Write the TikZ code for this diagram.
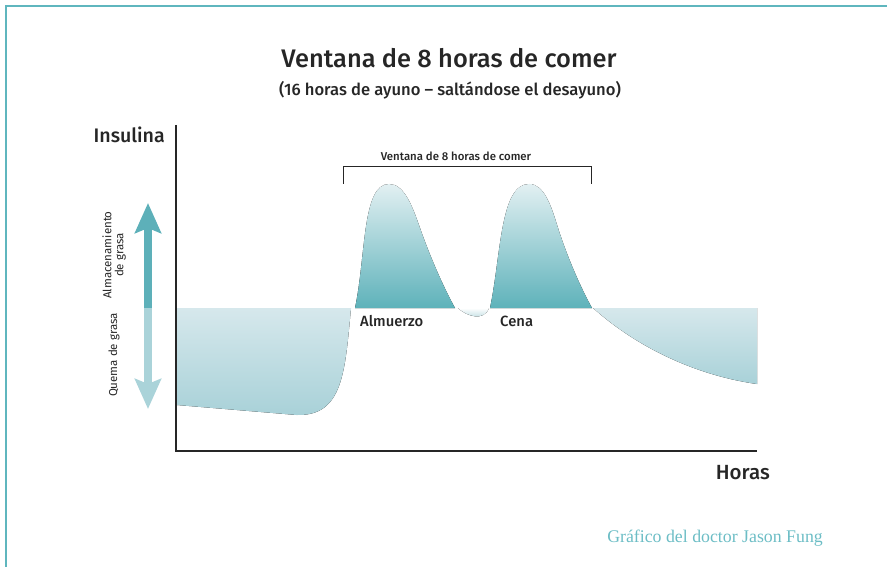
\documentclass[tikz,border=0pt]{standalone}
\usepackage{fontspec}
\setmainfont{Fira Sans}[BoldFont={Fira Sans Medium}]
\newfontfamily\creditfont{Liberation Serif}
\usepackage{tikz}
\usetikzlibrary{arrows.meta}

\definecolor{frameteal}{RGB}{95,182,190}
\definecolor{darkteal}{RGB}{93,176,185}
\definecolor{paleteal}{RGB}{170,211,217}
\definecolor{axisgray}{RGB}{38,38,38}
\definecolor{fatTop}{RGB}{214,232,236}
\definecolor{fatBottom}{RGB}{168,209,216}
\definecolor{peakTop}{RGB}{226,240,242}
\definecolor{peakBottom}{RGB}{94,178,186}
\definecolor{creditteal}{RGB}{108,189,197}

\tikzset{
  axis/.style={line width=2.5pt, axisgray},
  burnfill/.style={top color=fatTop, bottom color=fatBottom, draw=none},
  peakfill/.style={top color=peakTop, bottom color=peakBottom, draw=none},
  label/.style={font=\bfseries, text=axisgray, inner sep=0pt},
  sidelabel/.style={font=\fontsize{11.5}{12}\selectfont, text=axisgray, rotate=90, align=center, inner sep=0pt}
}

\begin{document}
\begin{tikzpicture}[x=1pt, y=-1pt]
\useasboundingbox (0,0) rectangle (887,567);
\draw[frameteal, line width=2.5pt] (6,567) -- (6,6) -- (887,6);

\node[label, font=\bfseries\fontsize{25.4}{27}\selectfont] (title) at (449,58) {Ventana de 8 horas de comer};
\node[label, font=\bfseries\fontsize{16.6}{18}\selectfont] (subtitle) at (450,90) {(16 horas de ayuno -- saltándose el desayuno)};

\fill[burnfill] (177,308) -- (351,308) .. controls (345,372) and (343,416) .. (297,415) -- (177,405) -- cycle;
\fill[burnfill] (593,308) .. controls (640,350) and (700,376) .. (757,384) -- (757,308) -- cycle;
\fill[peakfill] (355,308) .. controls (366,256) and (362,184) .. (389,184) .. controls (404,184) and (412,205) .. (420,228) .. controls (432,262) and (446,292) .. (455,308) -- cycle;
\fill[peakfill] (490,308) .. controls (501,256) and (500,184) .. (529,184) .. controls (544,184) and (551,205) .. (558,228) .. controls (569,262) and (583,292) .. (592,308) -- cycle;
\fill[top color=white, bottom color=fatBottom] (458,308) .. controls (466,316) and (484,322) .. (489,308) -- cycle;

\coordinate (origin) at (176,451);
\coordinate (ytop) at (176,125);
\coordinate (xend) at (757,451);
\draw[axis] (ytop) -- (origin) -- (xend);

\node[label, font=\bfseries\fontsize{19.6}{21}\selectfont, anchor=east] (ylabel) at (165,135) {Insulina};
\node[label, font=\bfseries\fontsize{20.5}{22}\selectfont, anchor=east] (xlabel) at (770,473) {Horas};

\coordinate (armid) at (148,308);
\coordinate (artop) at (148,203);
\coordinate (arbot) at (148,409);
\draw[darkteal, line width=8pt, -{Stealth[length=30pt, width=26pt, inset=5pt]}] (armid) -- (artop);
\draw[paleteal, line width=8pt, -{Stealth[length=30pt, width=26pt, inset=5pt]}] (armid) -- (arbot);
\node[sidelabel] (store) at (114,255) {Almacenamiento\\de grasa};
\node[sidelabel] (burn) at (114,355) {Quema de grasa};

\coordinate (brl) at (343,184);
\coordinate (brlt) at (343,167);
\coordinate (brrt) at (591,167);
\coordinate (brr) at (591,184);
\draw[axisgray, line width=1pt] (brl) -- (brlt) -- (brrt) -- (brr);
\node[label, font=\bfseries\fontsize{11.4}{13}\selectfont] (window) at (456,156) {Ventana de 8 horas de comer};

\node[label, font=\bfseries\fontsize{14.8}{16}\selectfont, anchor=west] (lunch) at (360,321) {Almuerzo};
\node[label, font=\bfseries\fontsize{14.8}{16}\selectfont, anchor=west] (dinner) at (500,321) {Cena};

\node[font=\creditfont\fontsize{17.8}{19}\selectfont, text=creditteal, anchor=east, inner sep=0pt] (credit) at (823,538) {Gráfico del doctor Jason Fung};
\end{tikzpicture}
\end{document}
